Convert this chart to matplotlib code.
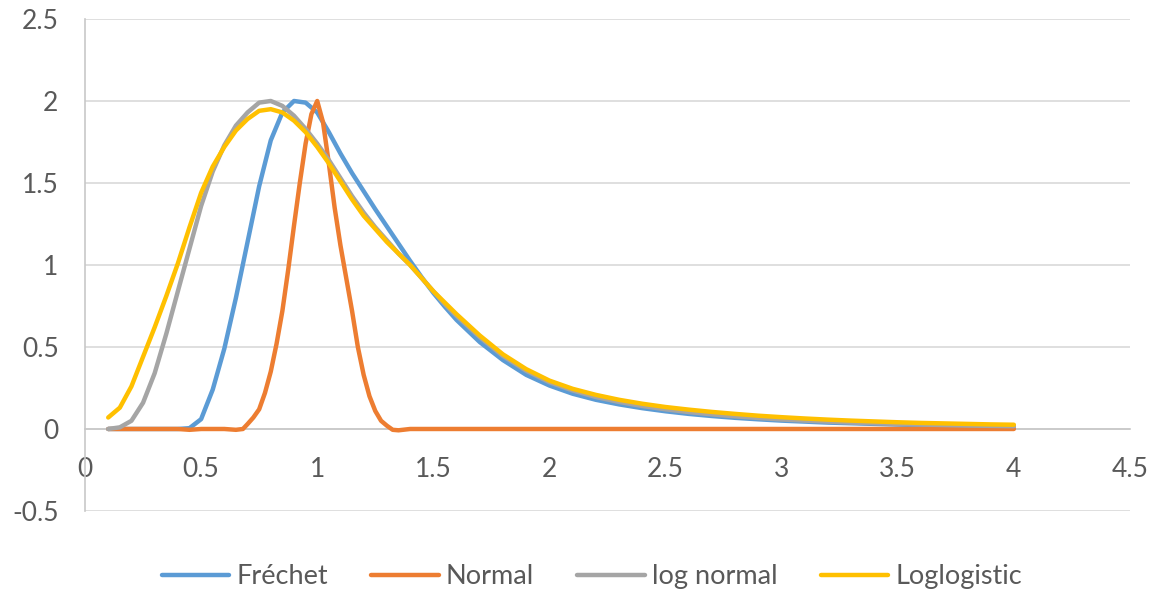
import numpy as np
import matplotlib
matplotlib.use("Agg")
from matplotlib import pyplot as plt

# x positions (steps of 0.05 up to 1.6, then 0.1)
x = [0.10, 0.15, 0.20, 0.25, 0.30, 0.35, 0.40, 0.45, 0.50, 0.55,
     0.60, 0.65, 0.70, 0.75, 0.80, 0.85, 0.90, 0.95, 1.00, 1.05,
     1.10, 1.15, 1.20, 1.25, 1.30, 1.35, 1.40, 1.45, 1.50, 1.55,
     1.60, 1.7, 1.8, 1.9, 2.0, 2.1, 2.2, 2.3, 2.4, 2.5,
     2.6, 2.7, 2.8, 2.9, 3.0, 3.1, 3.2, 3.3, 3.4, 3.5,
     3.6, 3.7, 3.8, 3.9, 4.0]

frechet = [0, 0, 0, 0, 0, 0, 0, 0.005, 0.06, 0.24,
           0.49, 0.80, 1.14, 1.48, 1.76, 1.93, 2.00, 1.99, 1.93, 1.81,
           1.68, 1.56, 1.45, 1.34, 1.235, 1.13, 1.025, 0.925, 0.83, 0.745,
           0.665, 0.53, 0.42, 0.33, 0.265, 0.215, 0.178, 0.15, 0.127, 0.108,
           0.092, 0.079, 0.068, 0.059, 0.051, 0.045, 0.039, 0.035, 0.031, 0.027,
           0.024, 0.022, 0.019, 0.017, 0.016]

lognormal = [0.0, 0.01, 0.05, 0.16, 0.34, 0.58, 0.84, 1.10, 1.36, 1.57,
             1.73, 1.85, 1.93, 1.99, 2.00, 1.97, 1.91, 1.83, 1.74, 1.64,
             1.53, 1.42, 1.32, 1.23, 1.15, 1.07, 1.00, 0.92, 0.84, 0.76,
             0.69, 0.56, 0.445, 0.355, 0.285, 0.235, 0.195, 0.165, 0.14, 0.12,
             0.103, 0.089, 0.077, 0.067, 0.058, 0.051, 0.045, 0.039, 0.035, 0.031,
             0.027, 0.024, 0.021, 0.019, 0.017]

loglogistic = [0.07, 0.13, 0.26, 0.44, 0.62, 0.81, 1.01, 1.23, 1.44, 1.60,
               1.72, 1.82, 1.89, 1.94, 1.95, 1.93, 1.88, 1.81, 1.72, 1.62,
               1.51, 1.40, 1.30, 1.22, 1.14, 1.07, 1.00, 0.92, 0.84, 0.77,
               0.70, 0.57, 0.455, 0.365, 0.295, 0.245, 0.208, 0.178, 0.154, 0.134,
               0.118, 0.104, 0.092, 0.081, 0.072, 0.064, 0.057, 0.051, 0.046, 0.041,
               0.037, 0.034, 0.031, 0.028, 0.026]

# normal curve is narrow, so it gets its own finer x grid
x_norm = [0.10, 0.20, 0.30, 0.40, 0.45, 0.50, 0.60, 0.65, 0.68, 0.70,
          0.725, 0.75, 0.775, 0.80, 0.825, 0.85, 0.875, 0.90, 0.925, 0.95,
          0.975, 1.00, 1.025, 1.05, 1.075, 1.10, 1.125, 1.15, 1.175, 1.20,
          1.225, 1.25, 1.275, 1.30, 1.325, 1.35, 1.40, 1.5, 2.0, 3.0, 4.0]
normal = [0, 0, 0, 0, -0.005, 0, 0, -0.005, 0, 0.03,
          0.07, 0.12, 0.22, 0.35, 0.52, 0.72, 0.97, 1.24, 1.50, 1.74,
          1.92, 2.00, 1.87, 1.62, 1.35, 1.12, 0.92, 0.72, 0.50, 0.33,
          0.20, 0.11, 0.05, 0.02, -0.005, -0.008, 0, 0, 0, 0, 0]

xticks = [0, 0.5, 1, 1.5, 2, 2.5, 3, 3.5, 4, 4.5]
yticks = [-0.5, 0, 0.5, 1, 1.5, 2, 2.5]

plt.rcParams['font.family'] = ['Lato', 'DejaVu Sans']
txt = '#595959'
grid = '#D9D9D9'

fig = plt.figure(figsize=(11.58, 5.93), dpi=100)
ax = fig.add_axes([0.0734, 0.1383, 0.9024, 0.8297])

lw = 3.2
ax.plot(x, frechet, color='#5B9BD5', lw=lw, label='Fréchet', solid_capstyle='round', zorder=3)
ax.plot(x_norm, normal, color='#ED7D31', lw=lw, label='Normal', solid_capstyle='round', zorder=3)
ax.plot(x, lognormal, color='#A5A5A5', lw=lw, label='log normal', solid_capstyle='round', zorder=3)
ax.plot(x, loglogistic, color='#FFC000', lw=lw, label='Loglogistic', solid_capstyle='round', zorder=3)

ax.set_xlim(0, 4.5)
ax.set_ylim(-0.5, 2.5)
ax.set_xticks(xticks)
ax.set_xticklabels(['0', '0.5', '1', '1.5', '2', '2.5', '3', '3.5', '4', '4.5'])
ax.set_yticks(yticks)
ax.set_yticklabels(['-0.5', '0', '0.5', '1', '1.5', '2', '2.5'])

ax.grid(axis='y', color=grid, lw=1.2)
ax.set_axisbelow(True)
for s in ['top', 'right']:
    ax.spines[s].set_visible(False)
ax.spines['bottom'].set_position(('data', 0))
ax.spines['bottom'].set_color('#C8C8C8')
ax.spines['left'].set_color('#C8C8C8')
ax.spines['bottom'].set_linewidth(1.2)
ax.spines['left'].set_linewidth(1.2)
ax.tick_params(axis='both', length=0, labelsize=19, labelcolor=txt)
ax.tick_params(axis='x', pad=20)
ax.tick_params(axis='y', pad=19)

fig.legend(loc='center', bbox_to_anchor=(0.511, 0.027), ncol=4, frameon=False,
           fontsize=19.5, labelcolor=txt, handlelength=2.5, handletextpad=0.25,
           columnspacing=1.6)

fig.savefig('out.png', dpi=100)
